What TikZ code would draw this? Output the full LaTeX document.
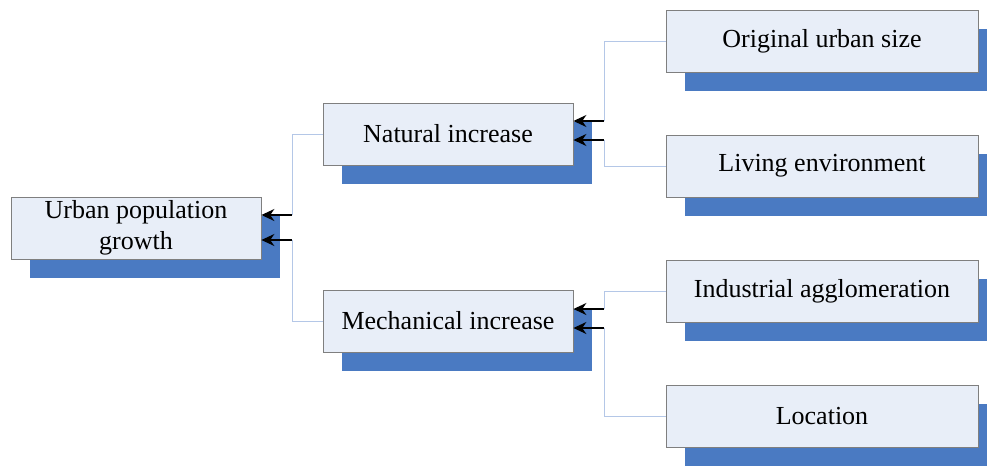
\documentclass[tikz,border=0pt]{standalone}
\usepackage{fontspec}
\setmainfont{Liberation Serif}
\usetikzlibrary{arrows.meta}
\definecolor{boxfill}{HTML}{E8EEF8}
\definecolor{boxline}{HTML}{7F7F7F}
\definecolor{shadowblue}{HTML}{4A7AC2}
\definecolor{linkblue}{HTML}{B4C7E7}
\tikzset{
  box/.style={draw=boxline, line width=0.8pt, fill=boxfill, inner sep=0pt, align=center, font=\fontsize{26}{31}\selectfont},
  shadowrect/.style={fill=shadowblue, draw=none},
  link/.style={draw=linkblue, line width=0.9pt},
  arr/.style={draw=black, line width=1.4pt, -{Stealth[length=13pt,width=12pt]}}
}
\begin{document}
\begin{tikzpicture}[x=1pt,y=-1pt]
\useasboundingbox (0,0) rectangle (987,466);
% shadows
\fill[shadowblue] (30,216) rectangle (280,278);
\fill[shadowblue] (342,122) rectangle (592,184);
\fill[shadowblue] (342,309) rectangle (592,371);
\fill[shadowblue] (685,29) rectangle (987,91);
\fill[shadowblue] (685,154) rectangle (987,216);
\fill[shadowblue] (685,279) rectangle (987,341);
\fill[shadowblue] (685,404) rectangle (987,466);
% boxes
\node[box, minimum width=250pt, minimum height=62pt] (urban) at (136,228) {Urban population\\growth};
\node[box, minimum width=250pt, minimum height=62pt] (natural) at (448,134) {Natural increase};
\node[box, minimum width=250pt, minimum height=62pt] (mech) at (448,321) {Mechanical increase};
\node[box, minimum width=312pt, minimum height=62pt] (orig) at (822,41) {Original urban size};
\node[box, minimum width=312pt, minimum height=62pt] (living) at (822,166) {Living environment};
\node[box, minimum width=312pt, minimum height=62pt] (indus) at (822,291) {Industrial agglomeration};
\node[box, minimum width=312pt, minimum height=62pt] (loc) at (822,416) {Location};
% junction coordinates
\coordinate (l1) at (292,215);
\coordinate (l2) at (292,240);
\coordinate (n1) at (604,121);
\coordinate (n2) at (604,140);
\coordinate (m1) at (604,309);
\coordinate (m2) at (604,328);
% links
\draw[link] (natural.west) -| (l1);
\draw[link] (mech.west) -| (l2);
\draw[link] (orig.west) -| (n1);
\draw[link] (living.west) -| (n2);
\draw[link] (indus.west) -| (m1);
\draw[link] (loc.west) -| (m2);
% arrows
\draw[arr] (l1) -- (l1 -| urban.east);
\draw[arr] (l2) -- (l2 -| urban.east);
\draw[arr] (n1) -- (n1 -| natural.east);
\draw[arr] (n2) -- (n2 -| natural.east);
\draw[arr] (m1) -- (m1 -| mech.east);
\draw[arr] (m2) -- (m2 -| mech.east);
\end{tikzpicture}
\end{document}
